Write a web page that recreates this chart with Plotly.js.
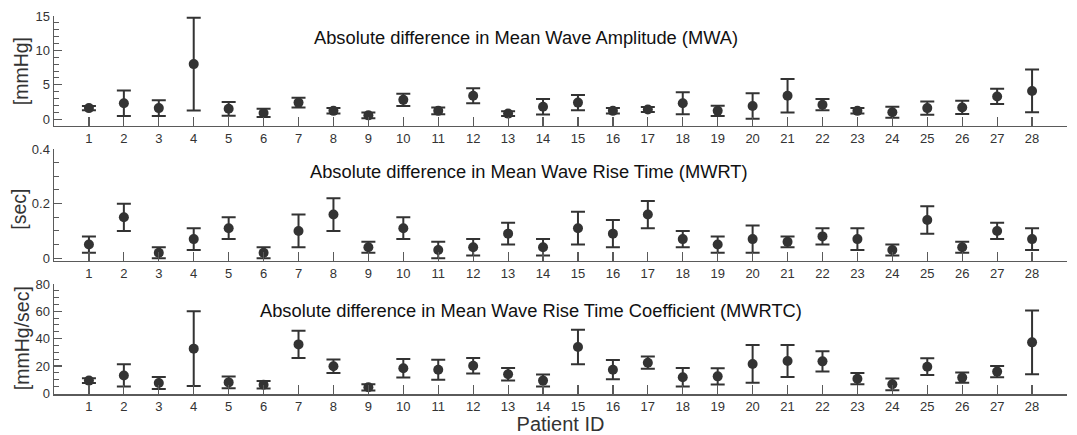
<!DOCTYPE html>
<html>
<head>
<meta charset="utf-8">
<script src="https://cdn.plot.ly/plotly-3.0.1.min.js"></script>
<style>html,body{margin:0;padding:0;background:#fff;}#chart{width:1077px;height:435px;}</style>
</head>
<body>
<div id="chart"></div>
<script>
// ---- data ----
const patients = [1,2,3,4,5,6,7,8,9,10,11,12,13,14,15,16,17,18,19,20,21,22,23,24,25,26,27,28];
const tickLabels = patients.map(String);

const mwaMean = [1.6,2.3,1.6,8.0,1.5,0.9,2.4,1.2,0.55,2.8,1.2,3.4,0.8,1.8,2.4,1.2,1.4,2.3,1.2,1.9,3.4,2.1,1.2,1.0,1.6,1.7,3.3,4.1];
const mwaErr  = [0.3,1.85,1.15,6.75,1.0,0.6,0.7,0.4,0.42,0.9,0.5,1.1,0.35,1.13,1.1,0.4,0.37,1.6,0.75,1.85,2.42,0.82,0.4,0.8,0.95,0.97,1.1,3.1];

const mwrtMean = [0.05,0.15,0.02,0.07,0.11,0.02,0.10,0.16,0.04,0.11,0.03,0.04,0.09,0.04,0.11,0.09,0.16,0.07,0.05,0.07,0.06,0.08,0.07,0.03,0.14,0.04,0.10,0.07];
const mwrtErr  = [0.03,0.05,0.02,0.04,0.04,0.02,0.06,0.06,0.02,0.04,0.03,0.03,0.04,0.03,0.06,0.05,0.05,0.03,0.03,0.05,0.02,0.03,0.04,0.02,0.05,0.02,0.03,0.04];

const mwrtcMean = [9.3,13.1,7.6,32.7,8.0,6.3,35.8,19.8,4.4,18.3,17.3,20.2,13.9,9.3,33.9,17.3,22.4,11.7,12.4,21.5,23.7,23.4,10.7,6.6,19.5,11.5,15.9,37.3];
const mwrtcErr  = [1.7,8.2,4.4,27.3,4.3,2.8,9.9,4.9,2.3,6.8,7.3,5.7,4.6,4.4,12.7,7.0,4.5,6.8,6.0,13.8,11.7,7.4,4.1,4.3,6.1,3.7,4.1,23.3];

const panelTitles = [
  "Absolute difference in Mean Wave Amplitude (MWA)",
  "Absolute difference in Mean Wave Rise Time (MWRT)",
  "Absolute difference in Mean Wave Rise Time Coefficient (MWRTC)"
];
const yTitles = ["[mmHg]", "[sec]", "[mmHg/sec]"];
const xTitle = "Patient ID";

// ---- styling ----
const markColor = "#333333";
const axisColor = "#5a5a5a";
const textColor = "#333333";
const FONT = "Liberation Sans, Arial, sans-serif";

function trace(mean, err, xa, ya) {
  return {
    x: patients, y: mean, xaxis: xa, yaxis: ya,
    type: "scatter", mode: "markers",
    marker: {color: markColor, size: 10},
    error_y: {type: "data", array: err, visible: true, color: markColor, thickness: 2, width: 7},
    showlegend: false, hoverinfo: "x+y"
  };
}

const data = [
  trace(mwaMean, mwaErr, "x", "y"),
  trace(mwrtMean, mwrtErr, "x2", "y2"),
  trace(mwrtcMean, mwrtcErr, "x3", "y3")
];

function xax(anchor, showTitle) {
  const a = {
    anchor: anchor, range: [0, 29], domain: [0, 1],
    tickvals: patients.concat([29]), ticktext: tickLabels.concat([""]),
    ticks: "inside", ticklen: 9, tickwidth: 1.2, tickcolor: axisColor,
    showline: true, linecolor: axisColor, linewidth: 1.5,
    showgrid: false, zeroline: false,
    tickfont: {family: FONT, size: 13, color: textColor},
    fixedrange: true
  };
  if (showTitle) {
    a.title = {text: xTitle, font: {family: FONT, size: 20, color: textColor}, standoff: 4};
  }
  return a;
}

function yax(anchor, domain, range, dtick, minorDtick) {
  return {
    anchor: anchor, domain: domain, range: range,
    dtick: dtick, tick0: 0,
    ticks: "inside", ticklen: 8, tickwidth: 1.2, tickcolor: axisColor,
    minor: {dtick: minorDtick, tick0: 0, ticks: "inside", ticklen: 5, tickcolor: axisColor, tickwidth: 1, showgrid: false},
    showline: true, linecolor: axisColor, linewidth: 1.5,
    showgrid: false, zeroline: false,
    tickfont: {family: FONT, size: 13, color: textColor},
    fixedrange: true
  };
}

function yTitle(text, x, y) {
  return {text: text, xref: "paper", yref: "paper", x: x, y: y, textangle: -90,
          showarrow: false, xanchor: "center", yanchor: "middle",
          font: {family: FONT, size: 19.5, color: textColor}};
}
function pTitle(text, x, y) {
  return {text: text, xref: "paper", yref: "paper", x: x, y: y, showarrow: false,
          xanchor: "center", yanchor: "middle", font: {family: FONT, size: 18.3, color: "#111"}};
}

const layout = {
  width: 1077, height: 435,
  margin: {l: 54, r: 10, t: 16, b: 41},
  paper_bgcolor: "#ffffff", plot_bgcolor: "#ffffff",
  font: {family: FONT, color: textColor},
  xaxis: xax("y", false),
  xaxis2: xax("y2", false),
  xaxis3: xax("y3", true),
  yaxis: yax("x", [0.709, 1], [-1, 15], 5, 1),
  yaxis2: yax("x2", [0.352, 0.648], [-0.01, 0.4], 0.2, 0.05),
  yaxis3: yax("x3", [0, 0.291], [-0.5, 80], 20, 5),
  annotations: [
    pTitle(panelTitles[0], 0.466, 0.943),
    pTitle(panelTitles[1], 0.469, 0.588),
    pTitle(panelTitles[2], 0.471, 0.220),
    yTitle(yTitles[0], -0.0325, 0.854),
    yTitle(yTitles[1], -0.034, 0.489),
    yTitle(yTitles[2], -0.0315, 0.148)
  ]
};

Plotly.newPlot("chart", data, layout, {displayModeBar: false, staticPlot: true});
</script>
</body>
</html>
